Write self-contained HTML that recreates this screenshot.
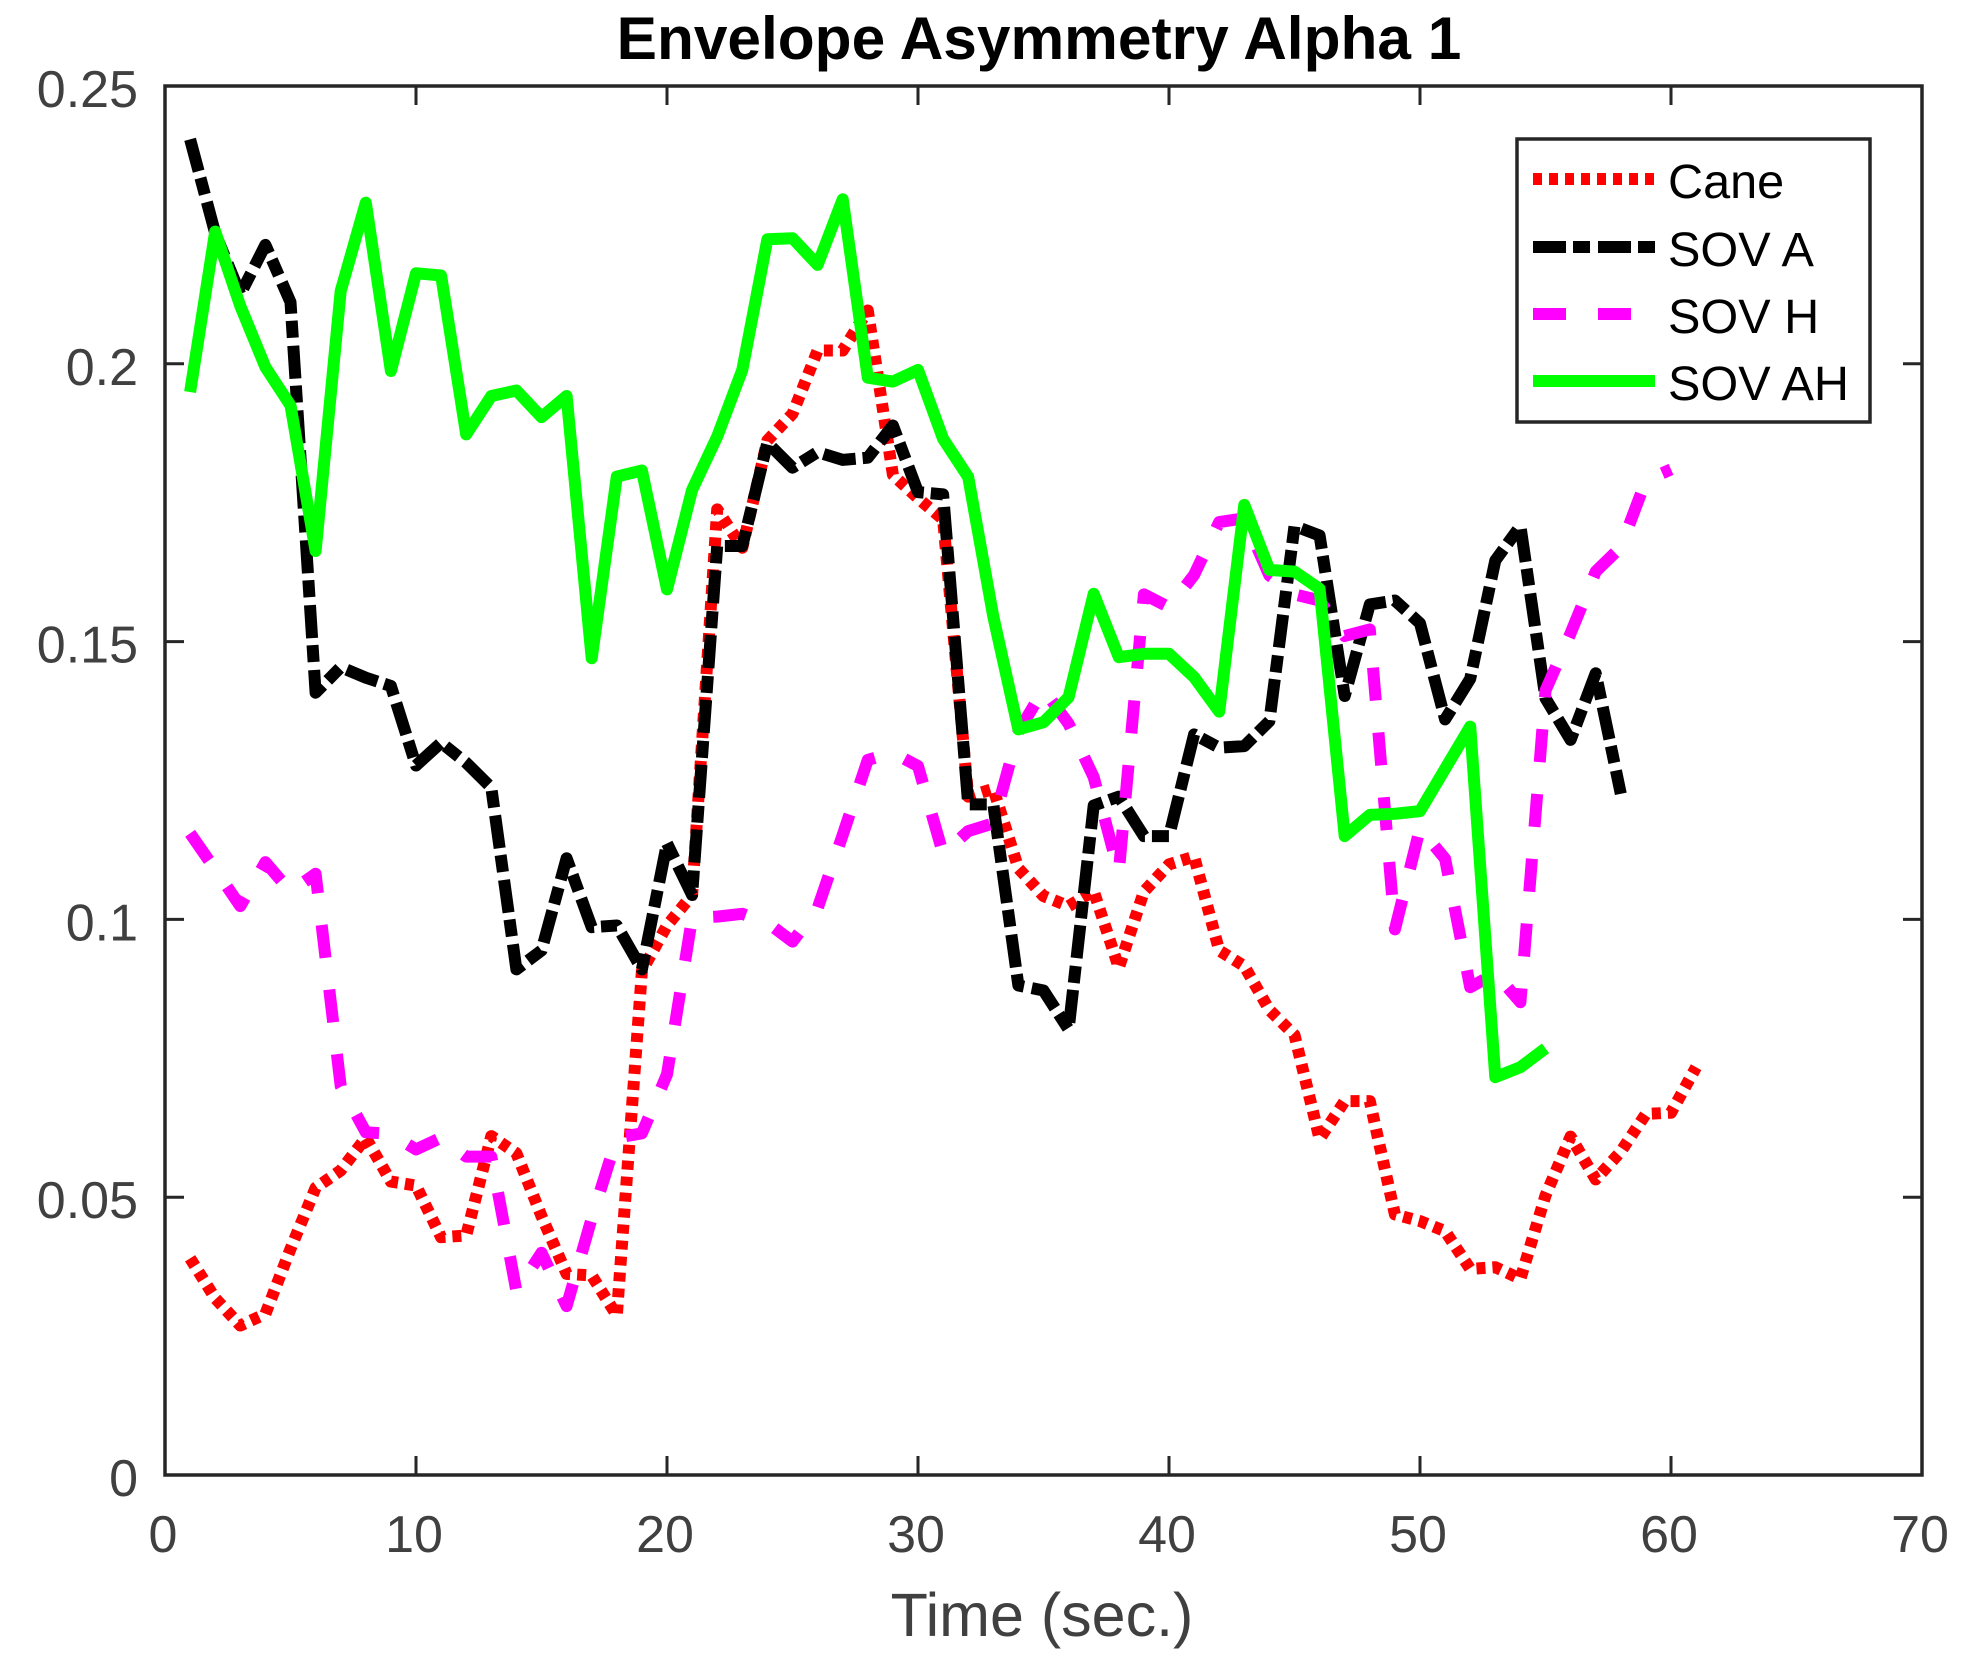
<!DOCTYPE html>
<html lang="en">
<head>
<meta charset="utf-8">
<title>Envelope Asymmetry Alpha 1</title>
<style>
html,body{margin:0;padding:0;background:#fff;width:1974px;height:1666px;overflow:hidden}
svg{display:block;font-family:"Liberation Sans",Arial,sans-serif}
</style>
</head>
<body>
<svg id="chart" xmlns="http://www.w3.org/2000/svg" width="1974" height="1666" viewBox="0 0 1974 1666">
  <rect x="0" y="0" width="1974" height="1666" fill="#fff"/>
  <text x="1039" y="59" text-anchor="middle" font-size="60.4" font-weight="bold" fill="#000">Envelope Asymmetry Alpha 1</text>
  <text x="1042" y="1636" text-anchor="middle" font-size="61" fill="#404040">Time (sec.)</text>
  <g id="ticks"></g>
  <g id="series"></g>
  <rect x="165" y="86" width="1757" height="1389" fill="none" stroke="#262626" stroke-width="3.5"/>
  <g>
    <rect x="1517" y="139" width="353" height="283" fill="#fff" stroke="#262626" stroke-width="3.5"/>
    <line x1="1533" x2="1655" y1="179" y2="179" stroke="#ff0000" stroke-width="12" stroke-dasharray="9 7"/>
    <text x="1668" y="198" font-size="48.6" fill="#000">Cane</text>
    <line x1="1533" x2="1655" y1="247" y2="247" stroke="#000" stroke-width="12" stroke-dasharray="33 7 17 8"/>
    <text x="1668" y="266" font-size="48.6" fill="#000">SOV A</text>
    <line x1="1533" x2="1655" y1="314" y2="314" stroke="#ff00ff" stroke-width="12" stroke-dasharray="33 32"/>
    <text x="1668" y="333" font-size="48.6" fill="#000">SOV H</text>
    <line x1="1533" x2="1655" y1="381" y2="381" stroke="#00ff00" stroke-width="12"/>
    <text x="1668" y="400" font-size="48.6" fill="#000">SOV AH</text>
  </g>
</svg>
<script>
const xTickValues = [0, 10, 20, 30, 40, 50, 60, 70];
const yTickValues = [0, 0.05, 0.1, 0.15, 0.2, 0.25];
const yTickLabels = ['0', '0.05', '0.1', '0.15', '0.2', '0.25'];

// Values at t = 1, 2, 3 ... seconds
const caneValues = [.0390,.0318,.0269,.0290,.0407,.0517,.0548,.0607,.0528,.0521,.0428,.0431,.0610,.0579,.0466,.0362,.0359,.0287,.0907,.0989,.1044,.1738,.1669,.1862,.1910,.2024,.2024,.2096,.1800,.1758,.1720,.1221,.1235,.1092,.1042,.1024,.1051,.0913,.1050,.1099,.1113,.0944,.0916,.0837,.0792,.0605,.0673,.0673,.0469,.0457,.0439,.0371,.0374,.0353,.0503,.0609,.0532,.0582,.0650,.0652,.0734];
const sovAValues = [.2404,.2235,.2125,.2214,.2111,.1408,.1454,.1435,.1420,.1277,.1318,.1282,.1237,.0910,.0944,.1110,.0986,.0989,.0910,.1137,.1044,.1672,.1672,.1858,.1813,.1841,.1827,.1831,.1889,.1769,.1765,.1207,.1207,.0881,.0872,.0802,.1205,.1221,.1150,.1150,.1333,.1309,.1312,.1357,.1708,.1691,.1402,.1567,.1574,.1533,.1360,.1433,.1646,.1708,.1398,.1323,.1443,.1226];
const sovHValues = [.1155,.1090,.1024,.1103,.1050,.1082,.0700,.0617,.0614,.0586,.0607,.0573,.0573,.0331,.0400,.0304,.0462,.0607,.0615,.0721,.1003,.1005,.1010,.0994,.0960,.1020,.1152,.1287,.1300,.1276,.1118,.1159,.1173,.1338,.1414,.1352,.1256,.1085,.1585,.1562,.1620,.1715,.1722,.1619,.1585,.1574,.1510,.1522,.0982,.1164,.1109,.0878,.0903,.0851,.1412,.1515,.1626,.1670,.1790,.1810];
const sovAHValues = [.1949,.2238,.2104,.1994,.1925,.1663,.2131,.2290,.1987,.2163,.2159,.1873,.1942,.1952,.1904,.1942,.1470,.1797,.1808,.1594,.1773,.1869,.1989,.2224,.2226,.2178,.2296,.1975,.1968,.1989,.1865,.1796,.1545,.1342,.1355,.1400,.1586,.1472,.1478,.1478,.1436,.1374,.1746,.1629,.1626,.1595,.1150,.1188,.1190,.1195,.1271,.1347,.0716,.0734,.0768];

const NS = 'http://www.w3.org/2000/svg';
const plotLeft = 165, plotRight = 1922, plotTop = 86, plotBottom = 1475;
const xMax = 70, yMax = 0.25;
const xScale = v => plotLeft + (v / xMax) * (plotRight - plotLeft);
const yScale = v => plotBottom - (v / yMax) * (plotBottom - plotTop);

const ticksGroup = document.getElementById('ticks');
const seriesGroup = document.getElementById('series');
const tickLength = 19;
const axisInk = '#262626';
const labelInk = '#404040';

function makeTickLine(x1, y1, x2, y2) {
  const line = document.createElementNS(NS, 'line');
  line.setAttribute('x1', x1);
  line.setAttribute('y1', y1);
  line.setAttribute('x2', x2);
  line.setAttribute('y2', y2);
  line.setAttribute('stroke', axisInk);
  line.setAttribute('stroke-width', '3');
  ticksGroup.appendChild(line);
  return line;
}

xTickValues.forEach(function (v) {
  const x = xScale(v);
  if (v > 0 && v < xMax) {
    const bottomTick = makeTickLine(x, plotBottom, x, plotBottom - tickLength);
    
    
    const topTick = makeTickLine(x, plotTop, x, plotTop + tickLength);
    
    
  }
  const label = document.createElementNS(NS, 'text');
  
  
  label.setAttribute('x', x - 2);
  label.setAttribute('y', 1552);
  label.setAttribute('text-anchor', 'middle');
  label.setAttribute('font-size', '52');
  label.setAttribute('fill', labelInk);
  label.textContent = String(v);
  ticksGroup.appendChild(label);
});

yTickValues.forEach(function (v, i) {
  const y = yScale(v);
  if (v > 0 && v < yMax) {
    const leftTick = makeTickLine(plotLeft, y, plotLeft + tickLength, y);
    
    
    const rightTick = makeTickLine(plotRight, y, plotRight - tickLength, y);
    
    
  }
  const label = document.createElementNS(NS, 'text');
  
  
  label.setAttribute('x', 138);
  label.setAttribute('y', y + 21);
  label.setAttribute('text-anchor', 'end');
  label.setAttribute('font-size', '52');
  label.setAttribute('fill', labelInk);
  label.textContent = yTickLabels[i];
  ticksGroup.appendChild(label);
});

function pointsFor(values) {
  return values.map(function (v, i) {
    return xScale(i + 1).toFixed(1) + ',' + yScale(v).toFixed(1);
  }).join(' ');
}

const caneLine = document.createElementNS(NS, 'polyline');


caneLine.setAttribute('points', pointsFor(caneValues));
caneLine.setAttribute('fill', 'none');
caneLine.setAttribute('stroke', '#ff0000');
caneLine.setAttribute('stroke-width', '12');
caneLine.setAttribute('stroke-dasharray', '9 7');
caneLine.setAttribute('stroke-linejoin', 'round');
seriesGroup.appendChild(caneLine);

const sovALine = document.createElementNS(NS, 'polyline');


sovALine.setAttribute('points', pointsFor(sovAValues));
sovALine.setAttribute('fill', 'none');
sovALine.setAttribute('stroke', '#000000');
sovALine.setAttribute('stroke-width', '12');
sovALine.setAttribute('stroke-dasharray', '33 7 17 8');
sovALine.setAttribute('stroke-linejoin', 'round');
seriesGroup.appendChild(sovALine);

const sovHLine = document.createElementNS(NS, 'polyline');


sovHLine.setAttribute('points', pointsFor(sovHValues));
sovHLine.setAttribute('fill', 'none');
sovHLine.setAttribute('stroke', '#ff00ff');
sovHLine.setAttribute('stroke-width', '12');
sovHLine.setAttribute('stroke-dasharray', '33 32');
sovHLine.setAttribute('stroke-linejoin', 'round');
seriesGroup.appendChild(sovHLine);

const sovAHLine = document.createElementNS(NS, 'polyline');


sovAHLine.setAttribute('points', pointsFor(sovAHValues));
sovAHLine.setAttribute('fill', 'none');
sovAHLine.setAttribute('stroke', '#00ff00');
sovAHLine.setAttribute('stroke-width', '12');
sovAHLine.setAttribute('stroke-linejoin', 'round');
seriesGroup.appendChild(sovAHLine);
</script>
</body>
</html>
